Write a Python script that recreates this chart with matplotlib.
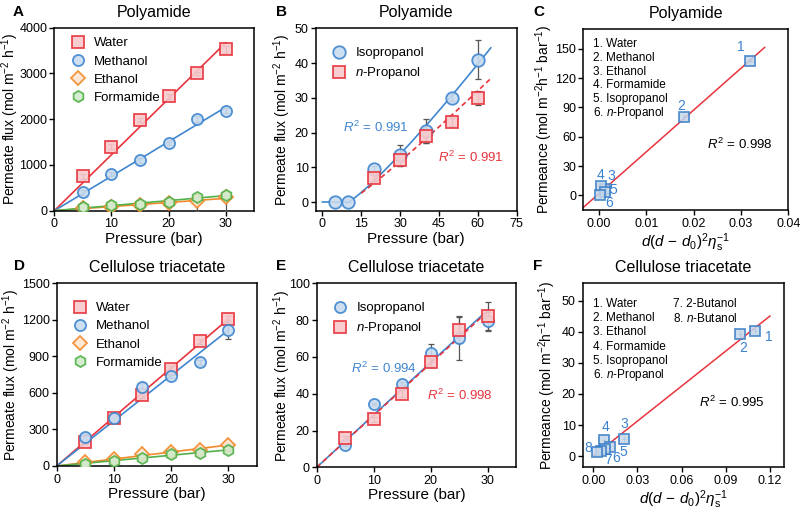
'''solvent permeation through polyamide and cellulose triacetate membranes'''
import numpy as np
import matplotlib
matplotlib.use('Agg')
import matplotlib.pyplot as plt

plt.rcParams['font.family'] = ['Liberation Sans', 'DejaVu Sans']
plt.rcParams['mathtext.fontset'] = 'custom'
plt.rcParams['mathtext.rm'] = 'Liberation Sans'
plt.rcParams['mathtext.it'] = 'Liberation Sans:italic'
plt.rcParams['mathtext.bf'] = 'Liberation Sans:bold'

# ---- data -------------------------------------------------------------
p_a = [5, 10, 15, 20, 25, 30]
pa_water = [750, 1400, 1980, 2500, 3000, 3530]
pa_water_err = [50, 60, 50, 50, 40, 80]
pa_methanol = [400, 800, 1100, 1470, 2000, 2190]
pa_methanol_err = [50, 40, 50, 40, 60, 50]
pa_ethanol = [50, 90, 130, 160, 220, 290]
pa_ethanol_err = [[30, 30, 30, 60, 220, 290], [10, 10, 10, 10, 10, 10]]
pa_formamide = [70, 120, 150, 180, 300, 340]
pa_formamide_err = [20, 20, 20, 20, 20, 20]

p_iso_b = [5, 10, 20, 30, 40, 50, 60]
pb_iso = [0, 0, 9.5, 13.5, 20.5, 30, 41]
pb_iso_err = [0, 0, 1, 3, 3.5, 1, 5.5]
p_nprop_b = [20, 30, 40, 50, 60]
pb_nprop = [7, 12, 19, 23, 30]
pb_nprop_err = [1, 1.5, 2, 1.2, 2]
# fitted threshold curves  y = a * (P - P0)^n
fit_iso_b = (0.43, 10, 1.157)
fit_nprop_b = (0.433, 10, 1.1)

pc_x = [0.032, 0.018, 0.0012, 0.0005, 0.0012, 0.0002]
pc_y = [138, 80, 6, 9.5, 3.5, 0.5]
pc_labels = ['1', '2', '3', '4', '5', '6']
pc_label_off = [(-7, 10), (-2.4, 8), (4.5, 10), (-0.5, 8), (6, 1.5), (7, -6)]
pc_names = ['1. Water', '2. Methanol', '3. Ethanol', '4. Formamide',
            '5. Isopropanol', '6. $n$-Propanol']

p_d = [5, 10, 15, 20, 25, 30]
pd_water = [195, 395, 580, 800, 1025, 1205]
pd_water_err = [15, 15, 20, 20, 20, 25]
pd_methanol = [240, 390, 650, 740, 850, 1120]
pd_methanol_err = [20, 20, 30, 20, 20, 80]
pd_ethanol = [30, 55, 95, 115, 135, 175]
pd_ethanol_err = [5, 5, 5, 5, 5, 5]
pd_formamide = [20, 41, 63, 96, 110, 130]
pd_formamide_err = [10, 10, 10, 10, 10, 10]

p_e = [5, 10, 15, 20, 25, 30]
pe_iso = [12, 34.5, 45.5, 62, 70.5, 79.5]
pe_iso_err = [0.5, 0.5, 1, 5, 12, 5]
pe_nprop = [16, 26, 40, 57.5, 74.5, 82]
pe_nprop_err = [1, 1.5, 2, 3, 7, 8]

pf_x = [0.110, 0.0996, 0.0210, 0.0073, 0.0110, 0.0080, 0.0050, 0.0025]
pf_y = [40.2, 39.2, 5.4, 5.3, 3.0, 2.2, 1.5, 1.2]
pf_labels = ['1', '2', '3', '4', '5', '6', '7', '8']
pf_label_off = [(9.4, -4.4), (2.4, -10), (0, 11), (0.7, 9), (9.9, -3.5),
                (7.8, -6.5), (5.2, -6.2), (-6, 3)]
pf_names1 = ['1. Water', '2. Methanol', '3. Ethanol', '4. Formamide',
             '5. Isopropanol', '6. $n$-Propanol']
pf_names2 = ['7. 2-Butanol', '8. $n$-Butanol']

# ---- styles -----------------------------------------------------------
RED, RED_F = '#e8343d', '#f8c9cb'
BLUE, BLUE_F = '#3f86cf', '#c8dcf0'
ORANGE, ORANGE_F = '#f28a2c', '#fde6d2'
GREEN, GREEN_F = '#52b149', '#d2ebcc'
SQ_BLUE, SQ_BLUE_F = '#3a7fc8', '#c6d6e9'
LBL_BLUE = '#3b82d0'
ERR = '#555555'
W, H = 800, 513
FLUX = 'Permeate flux (mol m$^{-2}$ h$^{-1}$)'
PERM = 'Permeance (mol m$^{-2}$h$^{-1}$ bar$^{-1}$)'
DLAB = r'$d(d\,-\,d_0)^2\eta_\mathrm{s}^{-1}$'


def add_ax(l, r, t, b):
    ax = fig.add_axes([l / W, 1 - b / H, (r - l) / W, (b - t) / H])
    for s in ax.spines.values():
        s.set_linewidth(1.1)
    ax.tick_params(direction='out', length=3.5, width=1.0, labelsize=9,
                   pad=2)
    ax.tick_params(axis='y', pad=1.5)
    return ax


def labels(ax, title, xlabel, ylabel, ylab_x):
    ax.set_title(title, fontsize=11.5, pad=8)
    ax.set_xlabel(xlabel, fontsize=11, labelpad=1)
    ax.set_ylabel(ylabel, fontsize=10)
    ax.yaxis.set_label_coords(ylab_x, 0.5)


def series(ax, x, y, err, marker, edge, face, label=None, ms=8):
    ax.errorbar(x, y, yerr=err, fmt='none', ecolor=ERR, elinewidth=0.9,
                capsize=2.5, capthick=0.9, zorder=3)
    ax.plot(x, y, ls='none', marker=marker, ms=ms, mec=edge, mfc=face,
            mew=1.3, alpha=0.9, label=label, zorder=4)


def origin_fit(ax, x, y, color, ls='-', xmax=30):
    x = np.asarray(x, float)
    y = np.asarray(y, float)
    k = np.sum(x * y) / np.sum(x * x)
    line, = ax.plot([0, xmax], [0, k * xmax], color=color, lw=1.2, ls=ls,
                    zorder=2)
    if ls == '--':
        line.set_dashes((3, 2))


def legend(ax, y0=0.97):
    ax.legend(loc='upper left', bbox_to_anchor=(0.0, y0), frameon=False,
              fontsize=9.5, handletextpad=0.4, labelspacing=0.45,
              borderaxespad=0.6, handlelength=1.6)


def point_labels(ax, xs, ys, labs, offs):
    for x, y, lab, off in zip(xs, ys, labs, offs):
        ax.annotate(lab, (x, y), xytext=off, textcoords='offset points',
                    color=LBL_BLUE, fontsize=10, ha='center', va='center')


fig = plt.figure(figsize=(8, 5.13), dpi=100)

# ---- A ---------------------------------------------------------------
ax = add_ax(54.3, 254.3, 27.7, 210.7)
origin_fit(ax, p_a, pa_water, RED)
origin_fit(ax, p_a, pa_methanol, BLUE)
origin_fit(ax, p_a, pa_ethanol, ORANGE, xmax=31)
origin_fit(ax, p_a, pa_formamide, GREEN)
series(ax, p_a, pa_water, pa_water_err, 's', RED, RED_F, 'Water')
series(ax, p_a, pa_methanol, pa_methanol_err, 'o', BLUE, BLUE_F, 'Methanol')
series(ax, p_a, pa_ethanol, pa_ethanol_err, 'D', ORANGE, ORANGE_F, 'Ethanol',
       ms=7)
series(ax, p_a, pa_formamide, pa_formamide_err, 'h', GREEN, GREEN_F,
       'Formamide')
ax.set_xlim(0, 35)
ax.set_ylim(0, 4000)
ax.set_xticks([0, 10, 20, 30])
ax.set_yticks(np.arange(0, 4001, 1000))
legend(ax, y0=1.02)
labels(ax, 'Polyamide', 'Pressure (bar)', FLUX, -0.165)

# ---- B ---------------------------------------------------------------
ax = add_ax(315.7, 516.7, 28.3, 210.7)
for (a, p0, n), color, dashed, x0 in [(fit_iso_b, BLUE, False, 0),
                                      (fit_nprop_b, RED, True, 15)]:
    xs = np.linspace(x0, 65, 200)
    ys = a * np.clip(xs - p0, 0, None) ** n
    line, = ax.plot(xs, ys, color=color, lw=1.2, zorder=2)
    if dashed:
        line.set_dashes((3, 2))
series(ax, p_iso_b, pb_iso, pb_iso_err, 'o', BLUE, BLUE_F, 'Isopropanol',
       ms=9)
series(ax, p_nprop_b, pb_nprop, pb_nprop_err, 's', RED, RED_F,
       '$n$-Propanol')
ax.set_xlim(-2.6, 75)
ax.set_ylim(-2.5, 50)
ax.set_xticks(np.arange(0, 76, 15))
ax.set_yticks(np.arange(0, 51, 10))
legend(ax)
ax.text(0.137, 0.457, '$R^2$ = 0.991', color=BLUE, fontsize=9.5,
        transform=ax.transAxes, va='center')
ax.text(0.607, 0.293, '$R^2$ = 0.991', color=RED, fontsize=9.5,
        transform=ax.transAxes, va='center')
labels(ax, 'Polyamide', 'Pressure (bar)', FLUX, -0.111)

# ---- C ---------------------------------------------------------------
ax = add_ax(583.3, 788.3, 29.3, 210)
k, b0 = np.polyfit(pc_x, pc_y, 1)
xs = np.array([-0.0033, 0.035])
ax.plot(xs, k * xs + b0, color=RED, lw=1.1, zorder=2)
ax.errorbar(pc_x, pc_y, xerr=0.0004, yerr=3, fmt='none', ecolor=SQ_BLUE,
            elinewidth=0.6, capsize=0, zorder=3)
ax.plot(pc_x, pc_y, ls='none', marker='s', ms=7.8, mec=SQ_BLUE,
        mfc=SQ_BLUE_F, mew=1.3, alpha=0.85, zorder=4)
point_labels(ax, pc_x, pc_y, pc_labels, pc_label_off)
for i, name in enumerate(pc_names):
    ax.text(0.049, 0.92 - i * 0.077, name, fontsize=8.5,
            transform=ax.transAxes, va='center')
ax.text(0.602, 0.365, '$R^2$ = 0.998', fontsize=9.5, transform=ax.transAxes,
        va='center')
ax.set_xlim(-0.0033, 0.04)
ax.set_ylim(-15, 170)
ax.set_xticks([0, 0.01, 0.02, 0.03, 0.04])
ax.set_xticklabels(['0.00', '0.01', '0.02', '0.03', '0.04'])
ax.set_yticks(np.arange(0, 151, 30))
labels(ax, 'Polyamide', DLAB, PERM, -0.138)

# ---- D ---------------------------------------------------------------
ax = add_ax(56.7, 256.7, 283.3, 466)
origin_fit(ax, p_d, pd_water, RED)
origin_fit(ax, p_d, pd_methanol, BLUE)
origin_fit(ax, p_d, pd_ethanol, ORANGE, xmax=31)
origin_fit(ax, p_d, pd_formamide, GREEN)
series(ax, p_d, pd_water, pd_water_err, 's', RED, RED_F, 'Water')
series(ax, p_d, pd_methanol, pd_methanol_err, 'o', BLUE, BLUE_F, 'Methanol')
series(ax, p_d, pd_ethanol, pd_ethanol_err, 'D', ORANGE, ORANGE_F, 'Ethanol',
       ms=7)
series(ax, p_d, pd_formamide, pd_formamide_err, 'h', GREEN, GREEN_F,
       'Formamide')
ax.set_xlim(0, 35)
ax.set_ylim(0, 1500)
ax.set_xticks([0, 10, 20, 30])
ax.set_yticks(np.arange(0, 1501, 300))
legend(ax)
labels(ax, 'Cellulose triacetate', 'Pressure (bar)', FLUX, -0.175)

# ---- E ---------------------------------------------------------------
ax = add_ax(316.7, 516.0, 283.3, 467.3)
origin_fit(ax, p_e, pe_iso, BLUE)
origin_fit(ax, p_e, pe_nprop, RED, ls='--')
series(ax, p_e, pe_iso, pe_iso_err, 'o', BLUE, BLUE_F, 'Isopropanol')
series(ax, p_e, pe_nprop, pe_nprop_err, 's', RED, RED_F, '$n$-Propanol')
ax.set_xlim(0, 35)
ax.set_ylim(0, 100)
ax.set_xticks([0, 10, 20, 30])
ax.set_yticks(np.arange(0, 101, 20))
legend(ax)
ax.text(0.171, 0.538, '$R^2$ = 0.994', color=BLUE, fontsize=9.5,
        transform=ax.transAxes, va='center')
ax.text(0.552, 0.389, '$R^2$ = 0.998', color=RED, fontsize=9.5,
        transform=ax.transAxes, va='center')
labels(ax, 'Cellulose triacetate', 'Pressure (bar)', FLUX, -0.117)

# ---- F ---------------------------------------------------------------
ax = add_ax(582.7, 784.0, 283.3, 467.3)
xs = np.array([0.0, 0.12])
kf = np.sum(np.multiply(pf_x, pf_y)) / np.sum(np.square(pf_x))
ax.plot(xs, kf * xs, color=RED, lw=1.1, zorder=2)
ax.errorbar(pf_x, pf_y, xerr=0.0012, yerr=1.0, fmt='none', ecolor=SQ_BLUE,
            elinewidth=0.6, capsize=0, zorder=3)
ax.plot(pf_x, pf_y, ls='none', marker='s', ms=7.8, mec=SQ_BLUE,
        mfc=SQ_BLUE_F, mew=1.3, alpha=0.85, zorder=4)
point_labels(ax, pf_x, pf_y, pf_labels, pf_label_off)
for i, name in enumerate(pf_names1):
    ax.text(0.053, 0.8875 - i * 0.077, name, fontsize=8.5,
            transform=ax.transAxes, va='center')
for i, name in enumerate(pf_names2):
    ax.text(0.447, 0.8875 - i * 0.077, name, fontsize=8.5,
            transform=ax.transAxes, va='center')
ax.text(0.578, 0.355, '$R^2$ = 0.995', fontsize=9.5, transform=ax.transAxes,
        va='center')
ax.set_xlim(-0.0072, 0.1295)
ax.set_ylim(-3.6, 55.6)
ax.set_xticks([0, 0.03, 0.06, 0.09, 0.12])
ax.set_xticklabels(['0.00', '0.03', '0.06', '0.09', '0.12'])
ax.set_yticks(np.arange(0, 51, 10))
labels(ax, 'Cellulose triacetate', DLAB, PERM, -0.121)

# panel letters
for letter, x, y in [('A', 13, 12), ('B', 276, 12), ('C', 533, 12),
                     ('D', 14, 266), ('E', 276, 266), ('F', 533, 266)]:
    fig.text(x / W, 1 - y / H, letter, fontsize=11, fontweight='bold',
             va='center')

fig.savefig('out.png', dpi=100)
